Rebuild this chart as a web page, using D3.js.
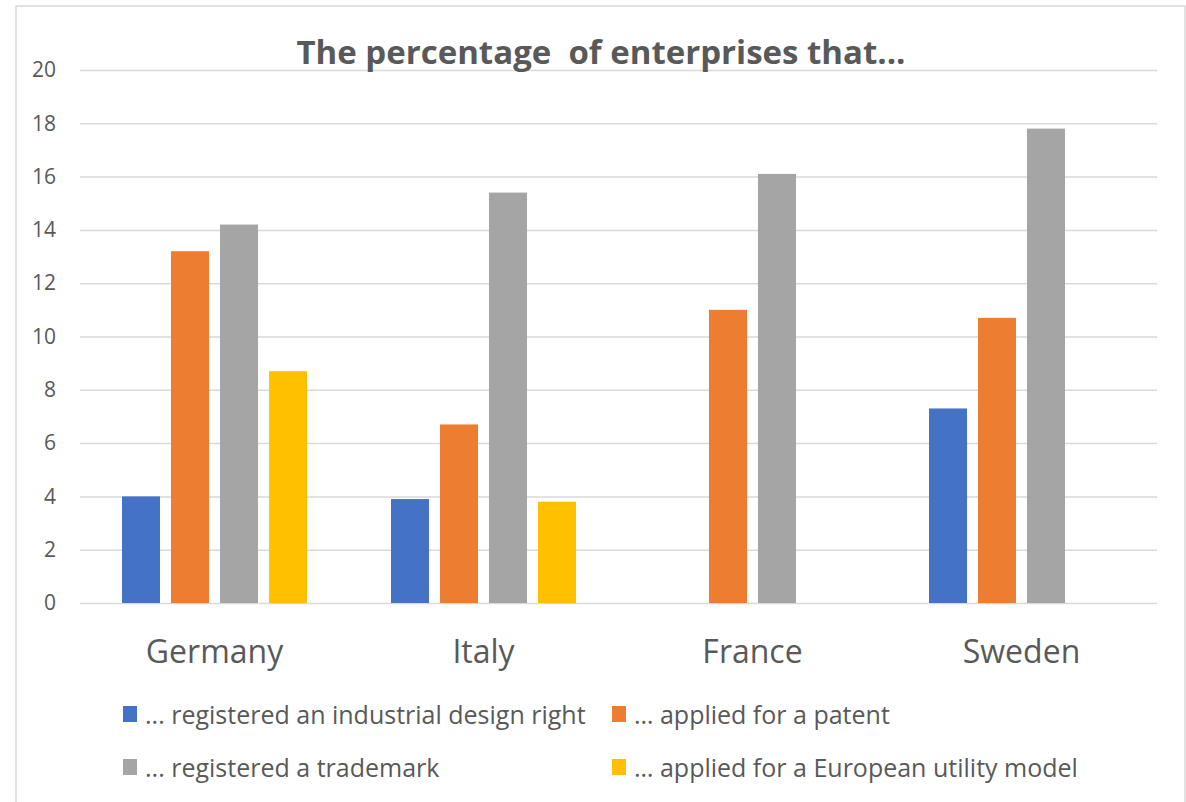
<!DOCTYPE html>
<html>
<head>
<meta charset="utf-8">
<script src="https://cdn.jsdelivr.net/npm/d3@7"></script>
<style>
  body { margin: 0; background: #fff; }
  text { font-family: "Open Sans", sans-serif; fill: #595959; }
</style>
</head>
<body>
<script>
// data
var countries = ["Germany", "Italy", "France", "Sweden"];
var seriesNames = [
  "... registered an industrial design right",
  "… applied for a patent",
  "... registered a trademark",
  "… applied for a European utility model"
];
var designRight = [4.0, 3.9, null, 7.3];
var patent = [13.2, 6.7, 11.0, 10.7];
var trademark = [14.2, 15.4, 16.1, 17.8];
var utilityModel = [8.7, 3.8, null, null];
var yTicks = [0, 2, 4, 6, 8, 10, 12, 14, 16, 18, 20];
var colors = ["#4472C4", "#ED7D31", "#A5A5A5", "#FFC000"];

var WIDTH = 1186, HEIGHT = 802;
var LEFT = 80, RIGHT = 1157, TOP = 70, BOTTOM = 603;

var allSeries = [designRight, patent, trademark, utilityModel];

var translate = function (x, y) {
  return "translate(" + x + "," + y + ")";
};

var svg = d3.select("body").append("svg")
  .attr("width", WIDTH)
  .attr("height", HEIGHT);

// chart frame
svg.append("rect")
  .attr("x", 16).attr("y", 6)
  .attr("width", 1169).attr("height", 820)
  .attr("fill", "none")
  .attr("stroke", "#D9D9D9")
  .attr("stroke-width", 1.5);

var x0 = d3.scaleBand()
  .domain(countries)
  .range([LEFT, RIGHT - 1]);

var x1 = d3.scaleBand()
  .domain(d3.range(seriesNames.length))
  .range([42, x0.bandwidth() - 42])
  .paddingInner(0.224);

var y = d3.scaleLinear()
  .domain([0, 20])
  .range([BOTTOM, TOP]);

var yAxis = d3.axisLeft(y)
  .tickValues(yTicks)
  .tickSize(-(RIGHT - LEFT))
  .tickPadding(24);

var gy = svg.append("g")
  .attr("transform", translate(LEFT, 0))
  .call(yAxis);
gy.select(".domain").remove();
gy.selectAll(".tick line").attr("stroke", "#D9D9D9").attr("stroke-width", 1.5);
gy.selectAll(".tick text")
  .attr("fill", "#595959")
  .style("font-size", "21px");

// bars
var cells = [];
countries.forEach(function (c, i) {
  allSeries.forEach(function (s, j) {
    if (s[i] != null) cells.push({ country: c, series: j, value: s[i] });
  });
});

svg.append("g").selectAll("rect")
  .data(cells)
  .enter()
  .append("rect")
  .attr("x", function (d) { return x0(d.country) + x1(d.series); })
  .attr("y", function (d) { return y(d.value); })
  .attr("width", x1.bandwidth())
  .attr("height", function (d) { return y(0) - y(d.value); })
  .attr("fill", function (d) { return colors[d.series]; });

// category labels
var xAxis = d3.axisBottom(x0).tickSize(0).tickPadding(37);
var gx = svg.append("g")
  .attr("transform", translate(0, BOTTOM))
  .call(xAxis);
gx.select(".domain").remove();
gx.selectAll(".tick text")
  .attr("fill", "#595959")
  .style("font-size", "32px");

// title
svg.append("text")
  .attr("x", 601)
  .attr("y", 64)
  .attr("text-anchor", "middle")
  .style("font-size", "33px")
  .style("font-weight", "bold")
  .style("white-space", "pre")
  .text("The percentage  of enterprises that...");

// legend
var legendPos = [[123, 715], [612, 715], [123, 768], [612, 768]];
var legend = svg.append("g").selectAll("g")
  .data(seriesNames)
  .enter()
  .append("g")
  .attr("transform", function (d, i) { return translate(legendPos[i][0], legendPos[i][1]); });

legend.append("rect")
  .attr("x", 0).attr("y", -9)
  .attr("width", 14).attr("height", 16)
  .attr("fill", function (d, i) { return colors[i]; });

legend.append("text")
  .attr("x", 22)
  .attr("y", 9)
  .style("font-size", "25px")
  .text(function (d) { return d; });
</script>
</body>
</html>
